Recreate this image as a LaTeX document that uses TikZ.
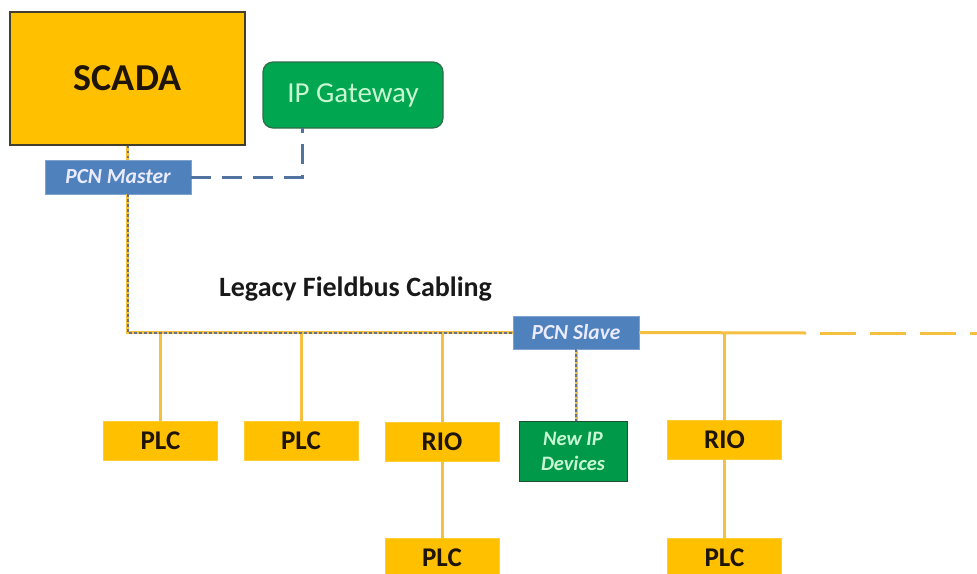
\documentclass[tikz,border=0pt]{standalone}
\usepackage{fontspec}
\setmainfont{Carlito}
\definecolor{amber}{HTML}{FFC000}
\definecolor{amberline}{HTML}{F5C040}
\definecolor{ipgreen}{HTML}{00A650}
\definecolor{ipgreenedge}{HTML}{2F6E4A}
\definecolor{iptext}{HTML}{C8F7D2}
\definecolor{pcnblue}{HTML}{4F81BD}
\definecolor{pcnedge}{HTML}{7FA3D0}
\definecolor{pcnline}{HTML}{5273A0}
\definecolor{dotgrey}{HTML}{66728A}
\definecolor{darktext}{HTML}{1E1408}
\begin{document}
\begin{tikzpicture}[x=1pt,y=-1pt,
  unit/.style={fill=amber, draw=amber!80!white, line width=0.8pt, inner sep=0pt,
    minimum width=114pt, minimum height=39pt,
    font=\fontsize{27}{29}\selectfont\bfseries, text=darktext},
  pcn/.style={fill=pcnblue, draw=pcnedge, line width=0.8pt, inner sep=0pt,
    font=\fontsize{21.5}{23}\selectfont\bfseries\itshape, text=white!92!blue},
  fieldbus/.style={amberline, line width=3pt},
  legacy/.style={dotgrey, line width=2pt, dash pattern=on 2.5pt off 2.5pt},
  ipdash/.style={pcnline, line width=3pt, dash pattern=on 20pt off 11pt}]
\useasboundingbox (0,0) rectangle (977,573);

% top level
\node[fill=amber, draw=black!70!olive, line width=1.6pt, minimum width=235pt,
  minimum height=133pt, inner sep=0pt, font=\fontsize{38}{40}\selectfont\bfseries,
  text=darktext] (scada) at (127.5,78.5) {SCADA};
\node[fill=ipgreen, draw=ipgreenedge, line width=1.2pt, rounded corners=10pt,
  minimum width=180pt, minimum height=66pt, inner sep=0pt,
  font=\fontsize{29}{31}\selectfont, text=iptext] (gw) at (353,95) {IP Gateway};
\node[pcn, minimum width=146pt, minimum height=34pt] (master) at (118,177) {PCN Master};
\node[pcn, minimum width=126pt, minimum height=33pt] (slave) at (576,332.5) {PCN Slave};

% field devices
\node[unit] (plcA) at (160.5,440.5) {PLC};
\node[unit] (plcB) at (301,440.5) {PLC};
\node[unit] (rioA) at (442,442) {RIO};
\node[fill=ipgreen!92!black, draw=ipgreenedge!70!black, line width=1pt, inner sep=0pt,
  minimum width=108pt, minimum height=60pt, align=center,
  font=\fontsize{20.5}{25}\selectfont\bfseries\itshape, text=iptext] (newip) at (573,451)
  {New IP\\Devices};
\node[unit] (rioB) at (724.5,439.5) {RIO};
\node[unit] (plcC) at (442,557.5) {PLC};
\node[unit] (plcD) at (724.5,557.5) {PLC};

\node[font=\fontsize{28}{30}\selectfont\bfseries, text=black!90] (cablelabel) at (355.5,289)
  {Legacy Fieldbus Cabling};

% junctions
\coordinate (corner) at (scada.south |- slave.west);
\coordinate (gwport) at (302,128);
\coordinate (solidend) at (806,333);
\coordinate (dashstart) at (820,333);
\coordinate (busfar) at (977,333);

% IP link from master to gateway
\draw[ipdash] (master.east) -| (gwport);

% SCADA to master
\draw[fieldbus] (scada.south) -- (scada.south |- master.north);
\draw[legacy] (scada.south) -- (scada.south |- master.north);

% drops to devices
\draw[fieldbus] (plcA.north |- corner) -- (plcA.north);
\draw[fieldbus] (plcB.north |- corner) -- (plcB.north);
\draw[fieldbus] (rioA.north |- corner) -- (rioA.north);
\draw[fieldbus] (rioB.north |- corner) -- (rioB.north);
\draw[fieldbus] (rioA.south) -- (plcC.north);
\draw[fieldbus] (rioB.south) -- (plcD.north);

% legacy bus: master down and across to the slave
\draw[fieldbus] (scada.south |- master.south) -- (corner) -- (slave.west);
\draw[legacy] (scada.south |- master.south) -- (corner) -- (slave.west);

% slave to new IP devices
\draw[fieldbus] (slave.south) -- (slave.south |- newip.north);
\draw[legacy] (slave.south) -- (slave.south |- newip.north);

% fieldbus beyond the slave
\draw[fieldbus] (slave.east) -- (solidend);
\draw[fieldbus, dash pattern=on 36pt off 14pt] (dashstart) -- (busfar);
\end{tikzpicture}
\end{document}
